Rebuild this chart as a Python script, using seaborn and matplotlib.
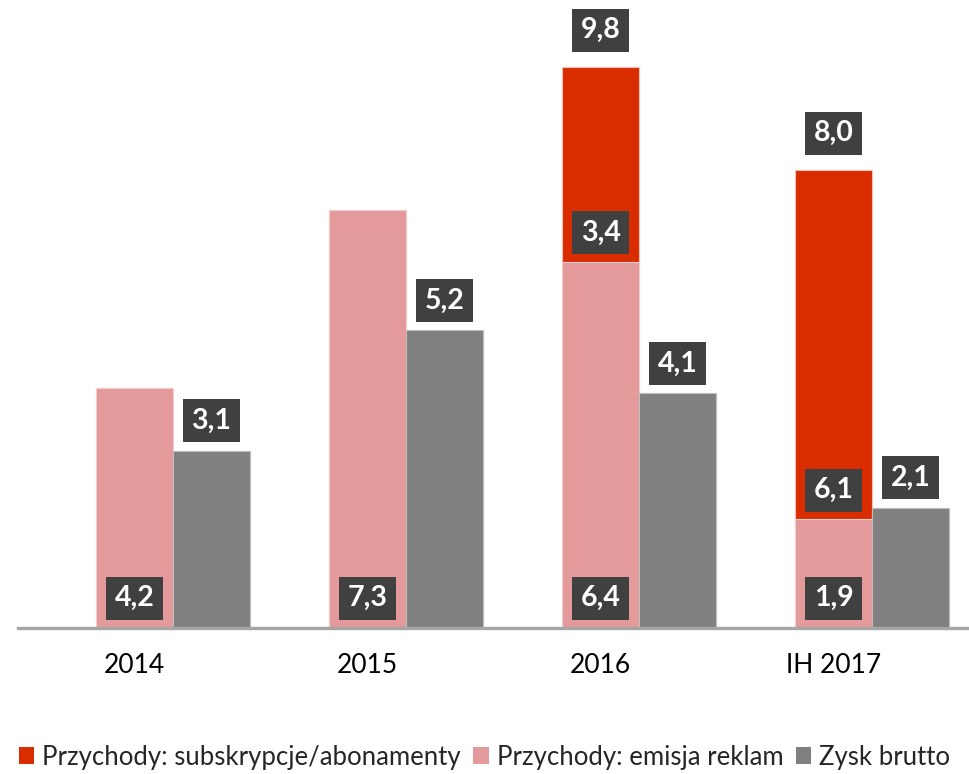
import matplotlib

matplotlib.use("Agg")

import matplotlib.pyplot as plt
import numpy as np
import pandas as pd
import seaborn as sns
from matplotlib.patches import Patch

periods = ["2014", "2015", "2016", "IH 2017"]
ads_revenue = [4.2, 7.3, 6.4, 1.9]
subscription_revenue = [0.0, 0.0, 3.4, 6.1]
gross_profit = [3.1, 5.2, 4.1, 2.1]

series_names = [
    "Przychody: subskrypcje/abonamenty",
    "Przychody: emisja reklam",
    "Zysk brutto",
]
RED = "#D92D00"
PINK = "#E49A9A"
GRAY = "#808080"
BOX = "#404040"

sns.set_theme(style="white")
plt.rcParams["font.family"] = ["Lato", "DejaVu Sans"]

totals = [a + s for a, s in zip(ads_revenue, subscription_revenue)]
top_layer = pd.DataFrame(
    {
        "period": periods * 2,
        "group": ["revenue"] * 4 + ["profit"] * 4,
        "value": totals + gross_profit,
    }
)
base_layer = pd.DataFrame(
    {
        "period": periods * 2,
        "group": ["revenue"] * 4 + ["profit"] * 4,
        "value": ads_revenue + gross_profit,
    }
)

fig = plt.figure(figsize=(9.69, 7.74), dpi=100)
ax = fig.add_axes([18 / 969, 1 - 628 / 774, 1 - 18 / 969, 628 / 774])

common = dict(x="period", y="value", hue="group", hue_order=["revenue", "profit"],
              order=periods, width=0.66, dodge=True, legend=False, ax=ax,
              errorbar=None, saturation=1)
sns.barplot(data=top_layer, palette=[RED, GRAY], edgecolor="#F3C0B3", linewidth=0.8, **common)
sns.barplot(data=base_layer, palette=[PINK, GRAY], edgecolor="#F2CFCF", linewidth=0.8, **common)
for patch in ax.patches[4:8] + ax.patches[12:16]:
    patch.set_edgecolor("#BFBFBF")

ax.set_xlim(-0.665, 3.416)
ax.set_ylim(0, 628 / 57.25)
ax.set_xlabel("")
ax.set_ylabel("")
ax.set_yticks([])
pos = np.arange(len(periods))
ax.set_xticks(pos - 0.165, periods)
ax.tick_params(axis="x", length=0, pad=18, labelsize=19, labelcolor="#000000")
for side in ["left", "right", "top"]:
    ax.spines[side].set_visible(False)
ax.spines["bottom"].set_color("#A6A6A6")
ax.spines["bottom"].set_linewidth(2.4)
ax.spines["bottom"].set_zorder(5)


def tag(x, y, value, offset):
    ax.annotate(
        f"{value:.1f}".replace(".", ","),
        xy=(x, y),
        xytext=(0, offset),
        textcoords="offset points",
        ha="center",
        va="center",
        color="white",
        fontsize=20.5,
        fontweight="bold",
        bbox=dict(boxstyle="square,pad=0.3", facecolor=BOX, edgecolor="none"),
        zorder=6,
    )


for i in range(len(periods)):
    tag(pos[i] - 0.165, 0, ads_revenue[i], 21.5)
    tag(pos[i] + 0.165, gross_profit[i], gross_profit[i], 21.5)
    if subscription_revenue[i] > 0:
        tag(pos[i] - 0.165, ads_revenue[i], subscription_revenue[i], 21)
        tag(pos[i] - 0.165, totals[i], totals[i], 26.5)

handles = [Patch(facecolor=c, edgecolor="none") for c in [RED, PINK, GRAY]]
fig.legend(
    handles,
    series_names,
    loc="center",
    bbox_to_anchor=(0.5, 1 - 757 / 774),
    ncol=3,
    frameon=False,
    fontsize=18.5,
    handlelength=0.6,
    handleheight=0.6,
    handletextpad=0.3,
    columnspacing=0.5,
)

fig.savefig("out.png", dpi=100)
